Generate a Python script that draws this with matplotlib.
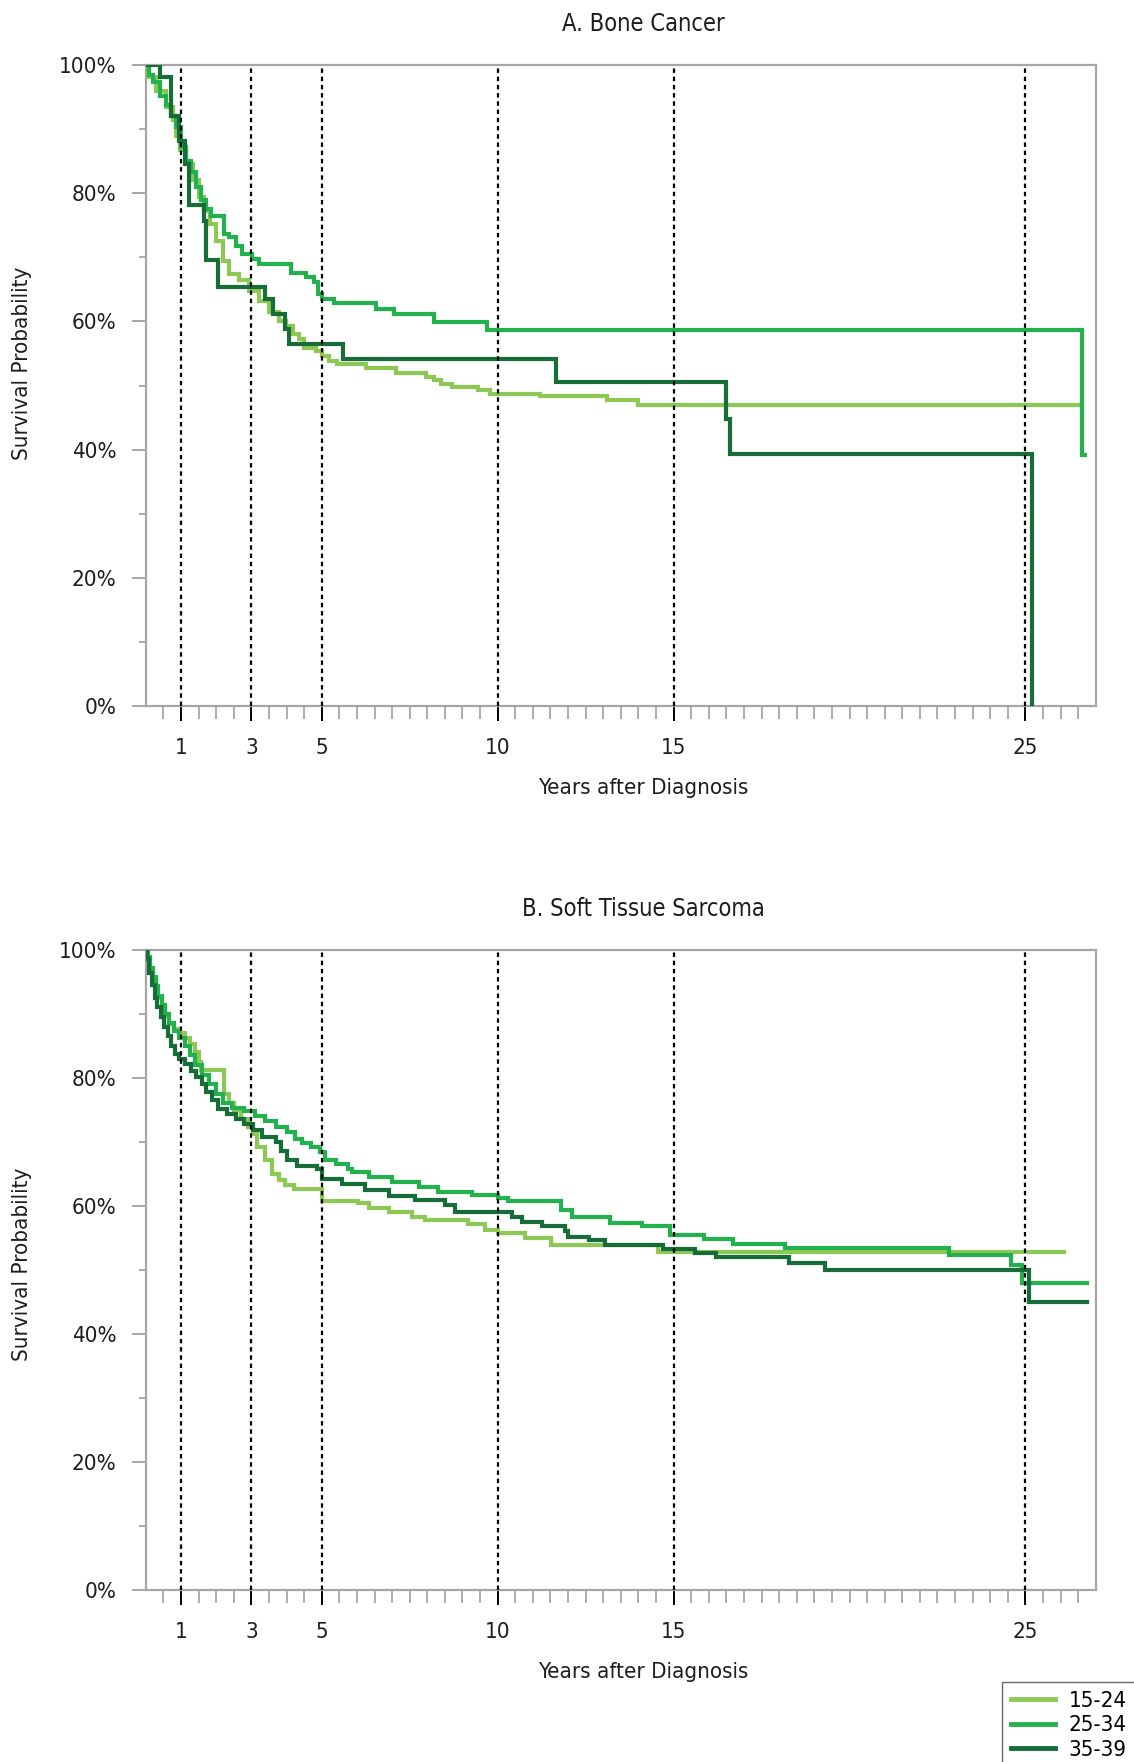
import numpy as np
import matplotlib
matplotlib.use("Agg")
import matplotlib.pyplot as plt
from matplotlib.lines import Line2D

plt.rcParams['font.family'] = ['DejaVu Sans']
plt.rcParams['font.stretch'] = 'condensed'

# ---- data (years after diagnosis, survival %) ----
groups = ["15-24", "25-34", "35-39"]
colors = ["#8dc855", "#22b14c", "#176d37"]

# A. Bone Cancer
bone_t_1524 = [0, 0.06, 0.29, 0.58, 0.77, 0.86, 0.96, 1.14, 1.33, 1.52, 1.66, 1.81, 2.0, 2.18, 2.37, 2.66,
               2.94, 3.22, 3.51, 3.79, 3.98, 4.17, 4.36, 4.5, 4.83, 5.02, 5.2, 5.44, 6.25, 7.1, 7.95,
               8.2, 8.4, 8.7, 9.45, 9.79, 11.2, 13.1, 14.0, 26.5]
bone_s_1524 = [100, 98.1, 96.0, 93.4, 91.4, 89.0, 86.7, 84.6, 82.0, 79.4, 77.3, 75.2, 72.6, 69.5, 67.4, 66.4,
               64.8, 63.2, 61.4, 60.1, 59.3, 58.0, 57.2, 55.9, 55.4, 54.6, 53.8, 53.3, 52.7, 52.0, 51.3,
               50.8, 50.3, 49.7, 49.3, 48.7, 48.3, 47.7, 47.0, 47.0]

bone_t_2534 = [0, 0.1, 0.2, 0.4, 0.58, 0.72, 0.87, 1.0, 1.15, 1.29, 1.43, 1.57, 1.71, 1.85, 2.23, 2.37,
               2.55, 2.74, 3.03, 3.22, 4.12, 4.55, 4.78, 4.88, 5.0, 5.35, 6.53, 7.05, 8.19, 9.70, 26.6, 26.7]
bone_s_2534 = [100, 98.5, 97.3, 95.2, 93.7, 92.0, 90.3, 87.2, 85.0, 83.3, 80.9, 78.9, 77.5, 76.5, 73.6, 73.1,
               71.8, 70.5, 69.7, 69.0, 67.5, 66.9, 66.1, 64.3, 63.5, 62.8, 62.0, 61.2, 59.9, 58.6, 39.1, 39.1]

bone_t_3539 = [0, 0.39, 0.72, 0.95, 1.10, 1.24, 1.64, 1.71, 2.06, 3.39, 3.62, 3.95, 4.08, 5.59, 11.67,
               16.5, 16.6, 25.2]
bone_s_3539 = [100, 98.1, 92.1, 88.2, 84.6, 78.2, 75.7, 69.6, 65.3, 63.5, 61.1, 58.8, 56.5, 54.1, 50.5,
               44.8, 39.3, 0]

# B. Soft Tissue Sarcoma
sts_t_1524 = [0, 0.05, 0.12, 0.2, 0.28, 0.36, 0.45, 0.55, 0.65, 0.8, 0.95, 1.1, 1.25, 1.4, 1.5, 1.57,
              2.23, 2.37, 2.52, 2.7, 2.9, 3.04, 3.15, 3.4, 3.6, 3.78, 3.96, 4.2, 5.02, 6.04, 6.33, 6.9,
              7.56, 7.94, 9.17, 9.64, 10.02, 10.78, 11.53, 14.55, 26.1]
sts_s_1524 = [100, 98.5, 97.0, 95.5, 94.0, 92.5, 91.0, 89.6, 88.4, 87.6, 87.0, 86.2, 85.3, 84.0, 82.5, 81.2,
              77.5, 76.0, 75.0, 73.5, 72.3, 71.2, 69.2, 67.1, 65.0, 64.0, 63.2, 62.6, 60.8, 60.4, 59.6, 59.1,
              58.3, 57.8, 57.1, 56.3, 55.8, 55.0, 53.9, 52.8, 52.8]

sts_t_2534 = [0, 0.05, 0.12, 0.2, 0.28, 0.36, 0.45, 0.55, 0.65, 0.8, 0.95, 1.1, 1.25, 1.4, 1.6, 1.8,
              2.0, 2.2, 2.45, 2.8, 3.1, 3.4, 3.7, 4.0, 4.25, 4.45, 4.7, 4.95, 5.1, 5.4, 5.76, 5.85,
              6.33, 6.99, 7.75, 8.31, 9.26, 10.0, 10.3, 11.8, 12.1, 13.2, 14.1, 14.9, 15.86, 16.68,
              18.18, 22.84, 24.58, 24.9, 26.74]
sts_s_2534 = [100, 98.8, 97.2, 95.8, 94.3, 92.8, 91.3, 90.0, 88.6, 87.3, 86.2, 85.0, 83.5, 82.0, 80.5, 79.1,
              77.5, 76.0, 75.3, 74.8, 74.0, 73.2, 72.3, 71.5, 70.5, 69.8, 69.2, 68.4, 67.1, 66.6, 65.8, 65.3,
              64.5, 63.7, 62.9, 62.2, 61.7, 61.2, 60.7, 59.3, 58.3, 57.3, 56.8, 55.5, 54.8, 54.1,
              53.4, 52.3, 50.7, 47.9, 47.9]

sts_t_3539 = [0, 0.04, 0.1, 0.18, 0.25, 0.33, 0.42, 0.52, 0.62, 0.72, 0.82, 0.95, 1.12, 1.28, 1.43, 1.6,
              1.72, 1.88, 2.05, 2.3, 2.55, 2.8, 3.04, 3.3, 3.7, 3.85, 4.0, 4.3, 4.86, 5.0, 5.57, 6.23,
              6.9, 7.65, 8.5, 8.79, 10.4, 10.68, 11.25, 11.9, 12.0, 12.6, 13.05, 14.7, 15.62, 16.2,
              18.28, 19.3, 25.1, 26.74]
sts_s_3539 = [100, 98.5, 96.3, 94.5, 92.5, 91.0, 89.5, 88.0, 86.5, 85.0, 83.7, 83.0, 82.2, 81.0, 80.1, 79.0,
              77.8, 76.5, 75.2, 74.4, 73.6, 72.8, 71.8, 70.7, 70.0, 68.5, 67.2, 66.3, 65.8, 64.2, 63.4, 62.5,
              61.6, 60.9, 60.1, 59.1, 58.3, 57.5, 56.8, 56.0, 55.2, 54.7, 53.9, 53.2, 52.6, 52.0,
              51.0, 50.0, 45.0, 45.0]

marker_years = [1, 3, 5, 10, 15, 25]

GRAY = "#a6a6a6"
TXT = "#1e1c1d"
FS = 16


def draw_panel(ax, curves, title, ylab_y):
    for (t, s), c in zip(curves, colors):
        ax.step(t, s, where='post', color=c, lw=3.0, solid_joinstyle='miter', zorder=3)
    for yr in marker_years:
        ax.axvline(yr, color='black', lw=1.6, linestyle=(0, (2.0, 1.7)), zorder=4)

    ax.set_xlim(0, 27)
    ax.set_ylim(0, 100)
    for sp in ax.spines.values():
        sp.set_color(GRAY)
        sp.set_linewidth(1.6)

    ax.set_xticks(marker_years)
    ax.set_xticklabels([str(y) for y in marker_years])
    ax.set_xticks(np.arange(0.5, 27, 0.5), minor=True)
    ax.set_yticks([0, 20, 40, 60, 80, 100])
    ax.set_yticklabels(["0%", "20%", "40%", "60%", "80%", "100%"])
    ax.set_yticks([10, 30, 50, 70, 90], minor=True)

    ax.tick_params(axis='x', which='major', color='black', length=11, width=1.4,
                   pad=12, labelsize=FS, labelcolor=TXT)
    ax.tick_params(axis='x', which='minor', color=GRAY, length=9, width=1.3)
    ax.tick_params(axis='y', which='major', color=GRAY, length=10, width=1.4,
                   pad=11, labelsize=FS, labelcolor=TXT)
    ax.tick_params(axis='y', which='minor', color=GRAY, length=5, width=1.3)

    ax.set_xlabel("Years after Diagnosis", fontsize=FS, color=TXT)
    ax.xaxis.set_label_coords(0.524, -0.128)
    ax.xaxis.label.set_va('center')
    ax.set_ylabel("Survival Probability", fontsize=FS, color=TXT)
    ax.yaxis.set_label_coords(-0.130, ylab_y)
    ax.yaxis.label.set_va('center')

    ax.text(0.524, 1.064, title, transform=ax.transAxes, ha='center', va='center',
            fontsize=FS + 1, color=TXT)


fig = plt.figure(figsize=(11.34, 17.62), dpi=100)
ax1 = fig.add_axes([0.1286, 0.5993, 0.8377, 0.3638])
ax2 = fig.add_axes([0.1286, 0.0976, 0.8377, 0.3634])

draw_panel(ax1, [(bone_t_1524, bone_s_1524), (bone_t_2534, bone_s_2534), (bone_t_3539, bone_s_3539)],
           "A. Bone Cancer", 0.535)
draw_panel(ax2, [(sts_t_1524, sts_s_1524), (sts_t_2534, sts_s_2534), (sts_t_3539, sts_s_3539)],
           "B. Soft Tissue Sarcoma", 0.509)

handles = [Line2D([0], [0], color=c, lw=3.5) for c in colors]
leg = fig.legend(handles, groups, loc='upper left',
                 bbox_to_anchor=(1002 / 1134, 1 - 1682 / 1762), bbox_transform=fig.transFigure,
                 borderaxespad=0, frameon=True, fancybox=False, fontsize=FS,
                 handlelength=2.0, handletextpad=0.6, labelspacing=0.2, borderpad=0.4)
leg.get_frame().set_edgecolor('#444444')
leg.get_frame().set_linewidth(1.0)

fig.savefig("out.png", dpi=100)
